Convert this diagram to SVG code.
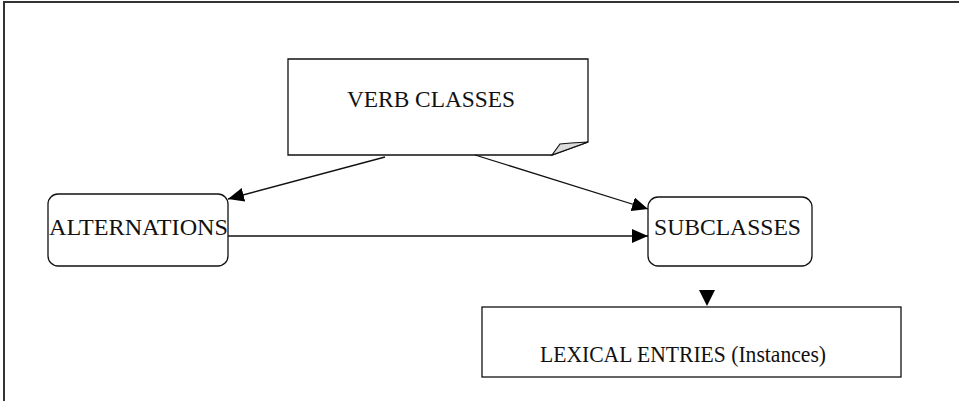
<svg xmlns="http://www.w3.org/2000/svg" width="959" height="401" viewBox="0 0 959 401">
<defs>
<style>
.box{fill:#fff;stroke:#111;stroke-width:1.3}
.lbl{font-family:"Liberation Serif","Times New Roman",serif;font-size:24px;fill:#111}
.edge{stroke:#111;stroke-width:1.3;fill:none}
.frame{stroke:#333;stroke-width:2;fill:none}
</style>
<marker id="ah" markerWidth="16" markerHeight="14" refX="16" refY="7" orient="auto" markerUnits="userSpaceOnUse">
<path d="M0,0 L16,7 L0,14 Z" fill="#000"/>
</marker>
</defs>
<rect width="959" height="401" fill="#fff"/>
<path class="frame" d="M4,401 V2 H959"/>
<g id="verb-classes">
<path class="box" d="M288,59 H588 V142 L552,155 H288 Z"/>
<path d="M552,155 L560,144 L571,143 L588,142 Z" fill="#ddd" stroke="#111" stroke-width="1.2"/>
<text class="lbl" x="347" y="107" textLength="168" lengthAdjust="spacingAndGlyphs">VERB CLASSES</text>
</g>
<g id="alternations">
<rect class="box" x="48" y="194" width="180" height="72" rx="10" ry="10"/>
<text class="lbl" x="49" y="235" textLength="179" lengthAdjust="spacingAndGlyphs">ALTERNATIONS</text>
</g>
<g id="subclasses">
<rect class="box" x="648" y="197" width="164" height="69" rx="10" ry="10"/>
<text class="lbl" x="654" y="235" textLength="147" lengthAdjust="spacingAndGlyphs">SUBCLASSES</text>
</g>
<g id="lexical-entries">
<rect class="box" x="482" y="307" width="419" height="70"/>
<text class="lbl" x="540" y="362" textLength="286" lengthAdjust="spacingAndGlyphs">LEXICAL ENTRIES (Instances)</text>
</g>
<g id="connectors">
<line class="edge" x1="385" y1="157" x2="228" y2="199" marker-end="url(#ah)"/>
<line class="edge" x1="475" y1="155" x2="648" y2="209" marker-end="url(#ah)"/>
<line class="edge" x1="228" y1="236" x2="648" y2="236" marker-end="url(#ah)"/>
<path d="M699,290 L715,290 L707,306 Z" fill="#000"/>
</g>
</svg>
